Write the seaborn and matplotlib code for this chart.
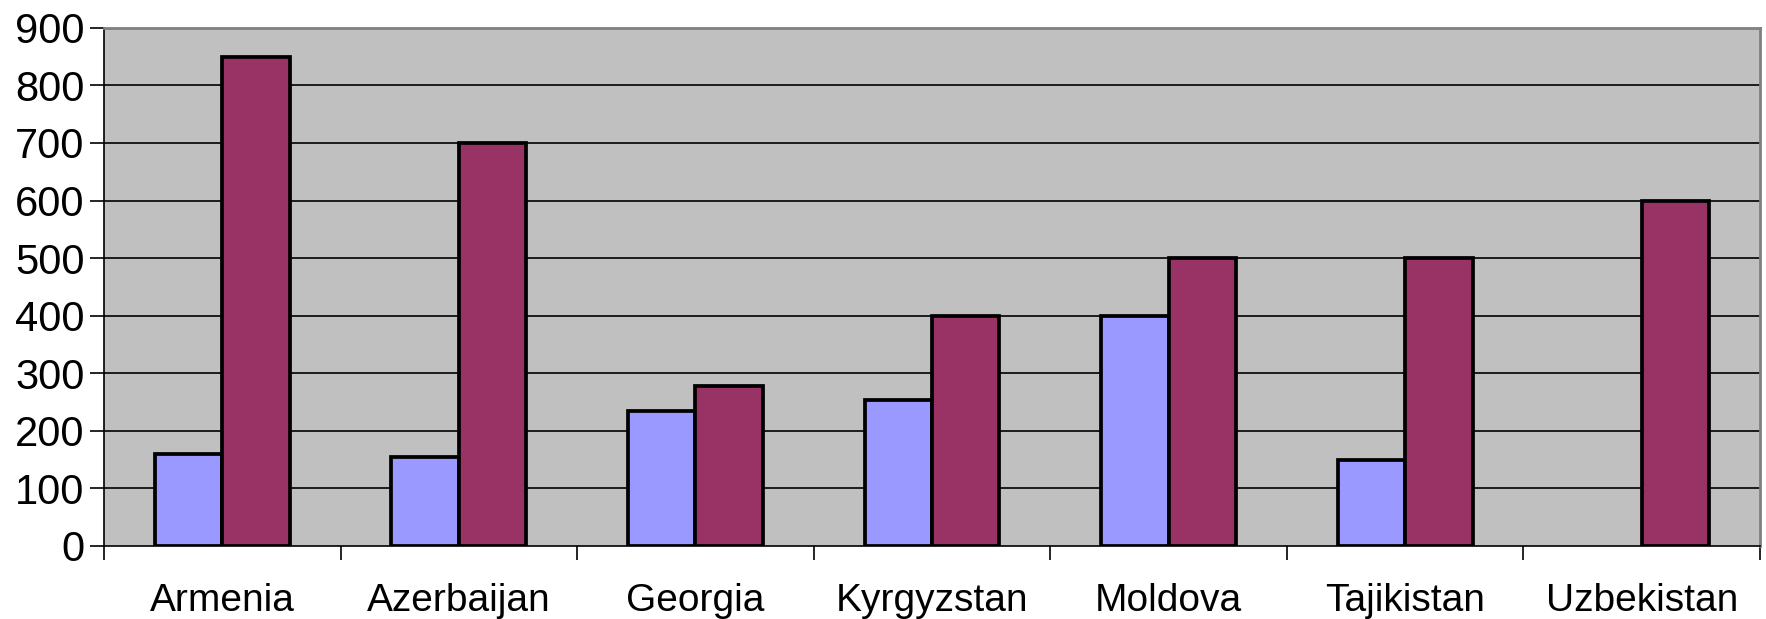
"""Grouped bar chart: two series per country, Excel-style grey plot area."""

import numpy as np
import pandas as pd
import matplotlib
matplotlib.use("Agg")
import matplotlib.pyplot as plt
import seaborn as sns

# Data
countries = ["Armenia", "Azerbaijan", "Georgia", "Kyrgyzstan",
             "Moldova", "Tajikistan", "Uzbekistan"]
series_a = [160, 155, 235, 254, 400, 150, np.nan]
series_b = [850, 700, 278, 400, 500, 500, 600]
y_ticks = [0, 100, 200, 300, 400, 500, 600, 700, 800, 900]

df = pd.DataFrame({
    "country": countries * 2,
    "value": series_a + series_b,
    "series": ["a"] * len(countries) + ["b"] * len(countries),
})

sns.set_theme(style="white")
plt.rcParams['font.family'] = ['Liberation Sans', 'DejaVu Sans']
plt.rcParams['text.color'] = 'black'
plt.rcParams['xtick.color'] = 'black'
plt.rcParams['ytick.color'] = 'black'

fig = plt.figure(figsize=(17.66, 6.19), dpi=100)
ax = fig.add_axes([0.0589, 0.118, 0.9377, 0.837])
ax.set_facecolor("#C0C0C0")

sns.barplot(
    data=df, x="country", y="value", hue="series",
    palette={"a": "#9999FF", "b": "#993366"},
    width=0.57, edgecolor="black", linewidth=2.7,
    saturation=1, legend=False, ax=ax, zorder=3,
)

ax.set_ylim(0, 900)
ax.set_xlim(-0.5, len(countries) - 0.5)
ax.set_yticks(y_ticks)
for y in y_ticks[1:-1]:
    ax.axhline(y, color="black", linewidth=1.2, zorder=1)

ax.set_xlabel("")
ax.set_ylabel("")

# tick marks sit between categories, labels at centres
ax.set_xticks(np.arange(-0.5, len(countries)), minor=True)
ax.tick_params(axis="x", which="major", length=0, pad=26.5, labelsize=28)
ax.tick_params(axis="x", which="minor", length=10, width=1.2,
               color="black", direction="out", bottom=True)
ax.tick_params(axis="y", length=10, width=1.2, color="black",
               direction="out", left=True, pad=4, labelsize=30)

for side in ["left", "bottom"]:
    ax.spines[side].set_color("black")
    ax.spines[side].set_linewidth(1.2)
for side in ["top", "right"]:
    ax.spines[side].set_color("#808080")
    ax.spines[side].set_linewidth(2)

fig.savefig("out.png", dpi=100)
